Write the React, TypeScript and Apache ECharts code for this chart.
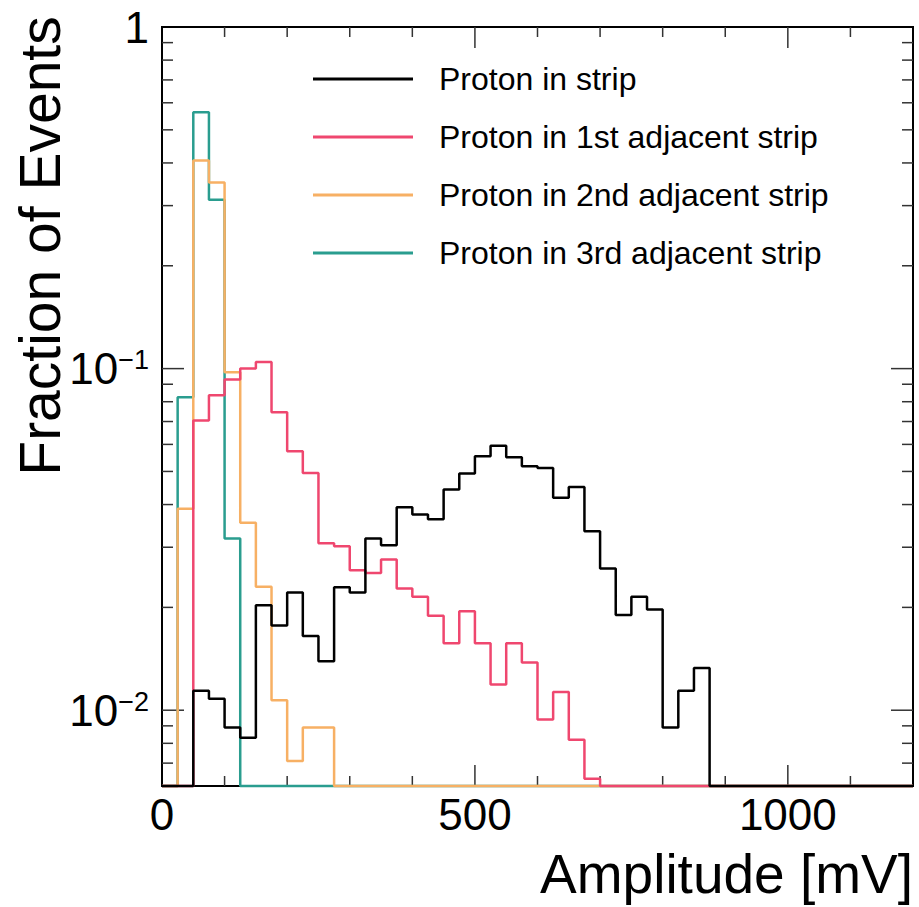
import React, { useEffect, useRef } from 'react';
import * as echarts from 'echarts';

// ---------- data ----------
const BIN_WIDTH = 25; // mV
const X_MIN = 0;
const X_MAX = 1200;
const Y_MIN = 0.006;
const Y_MAX = 1;

const binLowEdges: number[] = Array.from({ length: X_MAX / BIN_WIDTH }, (_, i) => i * BIN_WIDTH);

const seriesNames = [
  'Proton in strip',
  'Proton in 1st adjacent strip',
  'Proton in 2nd adjacent strip',
  'Proton in 3rd adjacent strip',
];

const seriesColors = ['#000000', '#ef476f', '#f7b064', '#2a9d8f'];

const protonInStrip = [
  0, 0, 0.0114, 0.0108, 0.0089, 0.0083, 0.0203, 0.0177, 0.0221, 0.0165,
  0.0139, 0.0229, 0.0221, 0.0318, 0.0304, 0.0393, 0.0374, 0.0362, 0.0443, 0.0493,
  0.0554, 0.0595, 0.055, 0.0518, 0.0512, 0.0419, 0.045, 0.0334, 0.026, 0.019,
  0.0215, 0.0197, 0.0089, 0.0114, 0.0133, 0, 0, 0, 0, 0,
  0, 0, 0, 0, 0, 0, 0, 0,
];

const proton1stAdjacent = [
  0, 0, 0.0705, 0.0836, 0.0929, 0.1, 0.1046, 0.0745, 0.0573, 0.0495,
  0.0308, 0.0302, 0.0257, 0.0252, 0.0276, 0.0227, 0.0215, 0.0189, 0.0157, 0.0195,
  0.0157, 0.0119, 0.0157, 0.0138, 0.0094, 0.0113, 0.0082, 0.0063, 0, 0,
  0, 0, 0, 0, 0, 0, 0, 0, 0, 0,
  0, 0, 0, 0, 0, 0, 0, 0,
];

const proton2ndAdjacent = [
  0, 0.0389, 0.4065, 0.3506, 0.0976, 0.0354, 0.023, 0.0107, 0.0071, 0.0089,
  0.0089, 0, 0, 0, 0, 0, 0, 0, 0, 0,
  0, 0, 0, 0, 0, 0, 0, 0, 0, 0,
  0, 0, 0, 0, 0, 0, 0, 0, 0, 0,
  0, 0, 0, 0, 0, 0, 0, 0,
];

const proton3rdAdjacent = [
  0, 0.0824, 0.563, 0.312, 0.0318, 0, 0, 0, 0, 0,
  0, 0, 0, 0, 0, 0, 0, 0, 0, 0,
  0, 0, 0, 0, 0, 0, 0, 0, 0, 0,
  0, 0, 0, 0, 0, 0, 0, 0, 0, 0,
  0, 0, 0, 0, 0, 0, 0, 0,
];

const seriesValues = [protonInStrip, proton1stAdjacent, proton2ndAdjacent, proton3rdAdjacent];

const xMajorTicks = [500, 1000];
const xMinorTicks = [100, 200, 300, 400, 600, 700, 800, 900, 1100];
const yMajorTicks = [0.01, 0.1];
const yMinorTicks = [
  0.007, 0.008, 0.009,
  0.02, 0.03, 0.04, 0.05, 0.06, 0.07, 0.08, 0.09,
  0.2, 0.3, 0.4, 0.5, 0.6, 0.7, 0.8, 0.9,
];

const xTitle = 'Amplitude [mV]';
const yTitle = 'Fraction of Events';

const FONT = "'Liberation Sans', Arial, Helvetica, sans-serif";

function toSteps(vals: number[]): number[][] {
  const pts = vals.map((v, i) => [binLowEdges[i], v > 0 ? v : Y_MIN]);
  const last = vals[vals.length - 1];
  pts.push([X_MAX, last > 0 ? last : Y_MIN]);
  return pts;
}

export default function App() {
  const ref = useRef<HTMLDivElement>(null);

  useEffect(() => {
    if (!ref.current) return;
    const chart = echarts.init(ref.current, undefined, { renderer: 'svg' });

    // tick items: [x, y, kind] kind 0=x minor, 1=x major, 2=y minor, 3=y major
    const tickData: number[][] = [
      ...xMinorTicks.map((x) => [x, 0.1, 0]),
      ...xMajorTicks.map((x) => [x, 0.1, 1]),
      ...yMinorTicks.map((y) => [600, y, 2]),
      ...yMajorTicks.map((y) => [600, y, 3]),
    ];

    const lineSeries = seriesNames.map((name, i) => ({
      type: 'line',
      name,
      data: toSteps(seriesValues[i]),
      step: 'end',
      symbol: 'none',
      showSymbol: false,
      color: seriesColors[i],
      itemStyle: { color: seriesColors[i] },
      lineStyle: { color: seriesColors[i], width: 2.5 },
      z: 10 - i,
      clip: false,
      silent: true,
    }));

    const option: any = {
      animation: false,
      backgroundColor: '#ffffff',
      grid: {
        left: 162,
        right: 6,
        top: 27,
        bottom: 121,
        show: true,
        borderColor: '#000',
        borderWidth: 2,
        backgroundColor: 'transparent',
        containLabel: false,
        outerBoundsMode: 'none',
      },
      legend: {
        orient: 'vertical',
        left: 313,
        top: 63,
        padding: 0,
        icon: 'rect',
        itemWidth: 100,
        itemHeight: 3,
        itemGap: 26,
        itemStyle: { borderWidth: 0 },
        selectedMode: false,
        data: seriesNames,
        textStyle: {
          fontFamily: FONT,
          fontSize: 32,
          lineHeight: 32,
          color: '#000',
          padding: [0, 0, 0, 21],
        },
      },
      xAxis: {
        type: 'value',
        min: X_MIN,
        max: X_MAX,
        interval: 500,
        axisLine: { show: false },
        axisTick: { show: false },
        splitLine: { show: false },
        axisLabel: {
          margin: 6,
          fontFamily: FONT,
          fontSize: 44,
          color: '#000',
          formatter: (v: number) => (v % 500 === 0 ? String(v) : ''),
        },
      },
      yAxis: {
        type: 'log',
        logBase: 10,
        min: Y_MIN,
        max: Y_MAX,
        axisLine: { show: false },
        axisTick: { show: false },
        splitLine: { show: false },
        axisLabel: {
          margin: 13,
          formatter: (v: number) => {
            const l = Math.log10(v);
            const e = Math.round(l);
            if (Math.abs(l - e) > 1e-6) return '';
            if (e === 0) return '{a|1}';
            return `{a|10}{b|\u2212${-e}}`;
          },
          rich: {
            a: { fontFamily: FONT, fontSize: 44, lineHeight: 44, color: '#000' },
            b: { fontFamily: FONT, fontSize: 27, lineHeight: 24, verticalAlign: 'top', color: '#000' },
          },
        },
      },
      graphic: [
        {
          type: 'text',
          x: 913,
          y: 874,
          style: {
            text: xTitle,
            fontFamily: FONT,
            fontSize: 55,
            fill: '#000',
            align: 'right',
            verticalAlign: 'middle',
          },
        },
        {
          type: 'text',
          x: 40,
          y: 246,
          rotation: Math.PI / 2,
          style: {
            text: yTitle,
            fontFamily: FONT,
            fontSize: 57,
            fill: '#000',
            align: 'center',
            verticalAlign: 'middle',
          },
        },
      ],
      series: [
        ...lineSeries,
        {
          type: 'custom',
          name: 'ticks',
          coordinateSystem: 'cartesian2d',
          silent: true,
          clip: false,
          z: 1,
          data: tickData,
          encode: { x: 0, y: 1 },
          renderItem: (params: any, api: any) => {
            const kind = api.value(2);
            const cs = params.coordSys;
            const style = { stroke: '#333', lineWidth: 1.5 };
            if (kind < 2) {
              const x = api.coord([api.value(0), 0.1])[0];
              const len = kind === 1 ? 21 : 10;
              const yb = cs.y + cs.height;
              return {
                type: 'group',
                children: [
                  { type: 'line', shape: { x1: x, y1: yb, x2: x, y2: yb - len }, style },
                  { type: 'line', shape: { x1: x, y1: cs.y, x2: x, y2: cs.y + len }, style },
                ],
              };
            }
            const y = api.coord([600, api.value(1)])[1];
            const len = kind === 3 ? 22 : 11;
            const xr = cs.x + cs.width;
            return {
              type: 'group',
              children: [
                { type: 'line', shape: { x1: cs.x, y1: y, x2: cs.x + len, y2: y }, style },
                { type: 'line', shape: { x1: xr, y1: y, x2: xr - len, y2: y }, style },
              ],
            };
          },
        },
      ],
    };

    chart.setOption(option);
    return () => chart.dispose();
  }, []);

  return (
    <div
      ref={ref}
      style={{ position: 'absolute', left: 0, top: 0, width: 919, height: 907, background: '#fff' }}
    />
  );
}
